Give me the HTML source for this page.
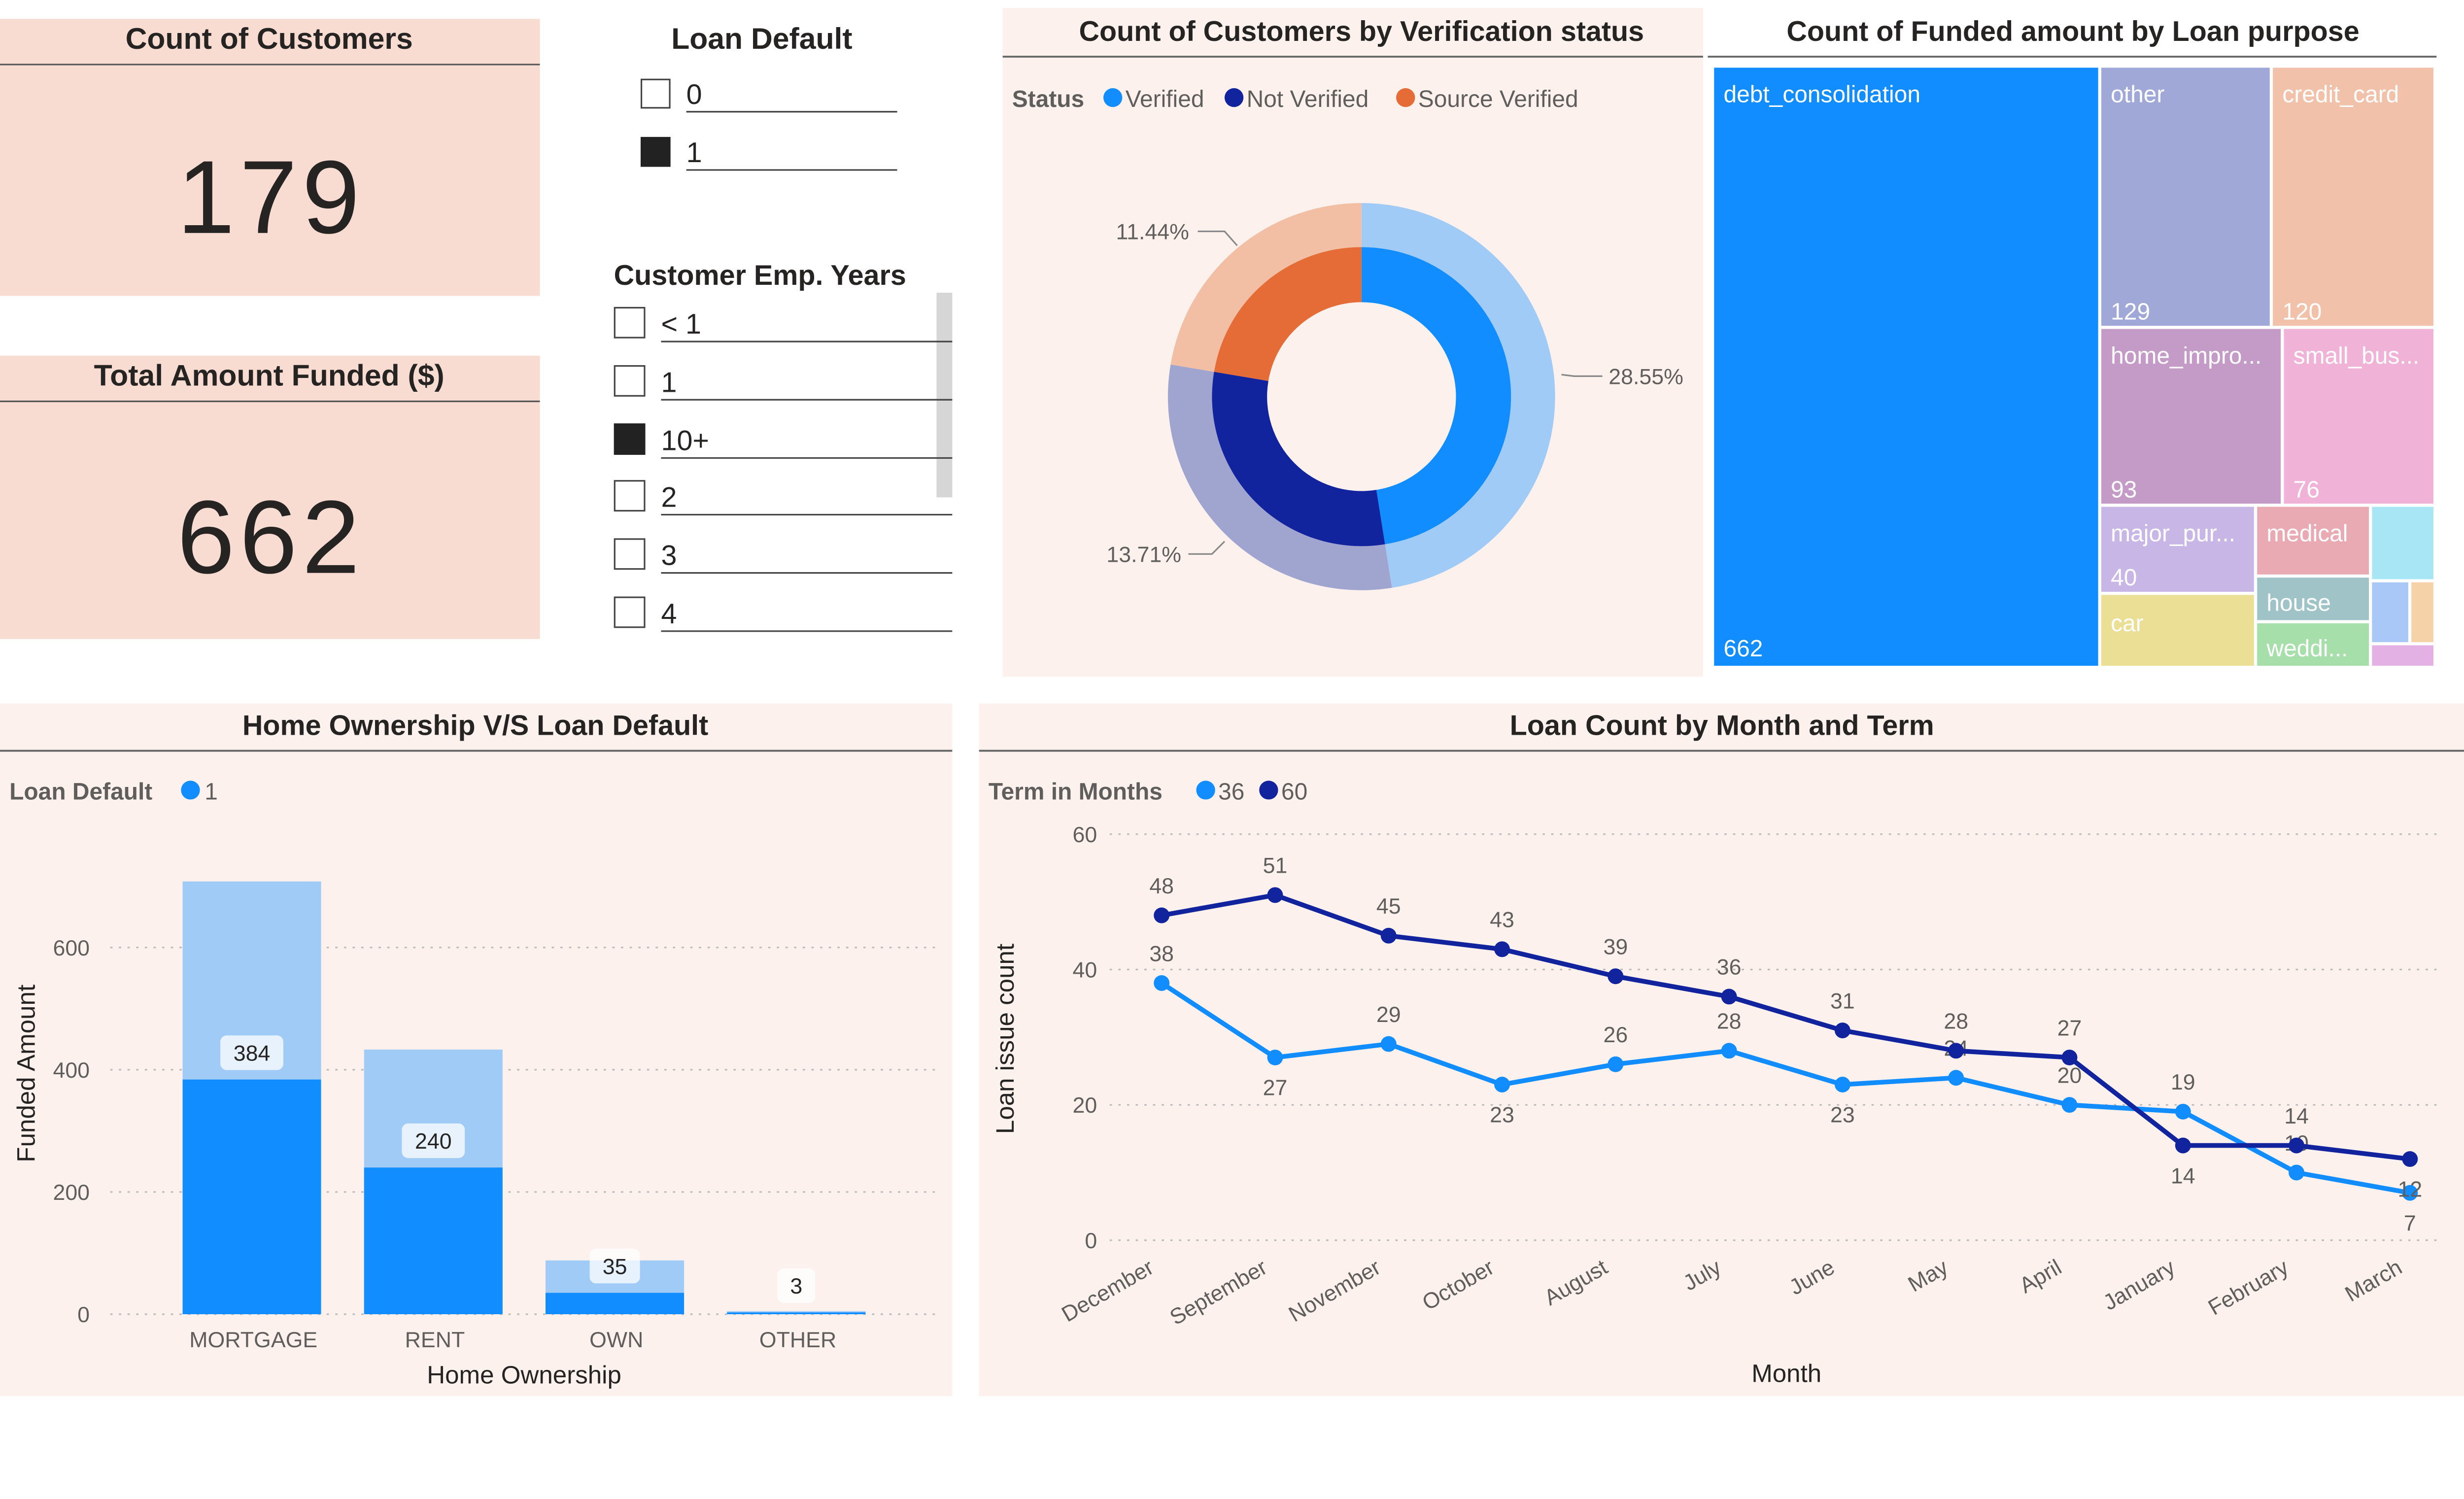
<!DOCTYPE html>
<html><head><meta charset="utf-8">
<style>
html,body{margin:0;padding:0;background:#fff;width:5334px;height:3042px;overflow:hidden;}
#wrap{position:absolute;left:0;top:0;width:5334px;height:3042px;overflow:hidden;}
svg{display:block;position:absolute;left:0;top:0;width:5334px;height:3042px;font-family:"Liberation Sans",sans-serif;}
.t{font-family:"Liberation Sans Narrow","Liberation Sans",sans-serif;}
</style></head>
<body>
<div id="wrap">
<svg id="root" width="5334" height="3042" viewBox="0 0 1670 952" preserveAspectRatio="xMinYMin meet" xmlns="http://www.w3.org/2000/svg">
<rect width="1670" height="952" fill="#ffffff"/>

<!-- KPI cards -->
<g>
<rect x="0" y="12" width="343" height="176" fill="#f8dcd2"/>
<text class="t" x="171" y="31" text-anchor="middle" font-size="19" font-weight="bold" fill="#252423">Count of Customers</text>
<line x1="0" y1="41" x2="343" y2="41" stroke="#555" stroke-width="1"/>
<text x="172" y="148" text-anchor="middle" font-size="66" fill="#252423" letter-spacing="3">179</text>
</g>
<g>
<rect x="0" y="226" width="343" height="180" fill="#f8dcd2"/>
<text class="t" x="171" y="245" text-anchor="middle" font-size="19" font-weight="bold" fill="#252423">Total Amount Funded ($)</text>
<line x1="0" y1="255" x2="343" y2="255" stroke="#555" stroke-width="1"/>
<text x="172" y="364" text-anchor="middle" font-size="66" fill="#252423" letter-spacing="3">662</text>
</g>

<!-- Slicers -->
<g>
<text class="t" x="484" y="31" text-anchor="middle" font-size="19" font-weight="bold" fill="#252423">Loan Default</text>
<g>
<rect x="407.5" y="50.5" width="18" height="18" fill="#fff" stroke="#444"/>
<text x="436" y="66" font-size="18" fill="#252423">0</text>
<line x1="436" y1="71" x2="570" y2="71" stroke="#444"/></g>
<g>
<rect x="407.5" y="87.5" width="18" height="18" fill="#222" stroke="#222"/>
<text x="436" y="103" font-size="18" fill="#252423">1</text>
<line x1="436" y1="108" x2="570" y2="108" stroke="#444"/></g>
</g>
<g>
<text class="t" x="390" y="181" font-size="18" font-weight="bold" fill="#252423">Customer Emp. Years</text>
<rect x="595" y="186" width="10" height="130" fill="#d6d6d6"/>
<g><rect x="390.5" y="195.5" width="19" height="19" fill="#fff" stroke="#444"/><text x="420" y="212" font-size="18" fill="#252423">&lt; 1</text><line x1="420" y1="217" x2="605" y2="217" stroke="#444"/></g>
<g><rect x="390.5" y="232.5" width="19" height="19" fill="#fff" stroke="#444"/><text x="420" y="249" font-size="18" fill="#252423">1</text><line x1="420" y1="254" x2="605" y2="254" stroke="#444"/></g>
<g><rect x="390.5" y="269.5" width="19" height="19" fill="#222" stroke="#222"/><text x="420" y="286" font-size="18" fill="#252423">10+</text><line x1="420" y1="291" x2="605" y2="291" stroke="#444"/></g>
<g><rect x="390.5" y="305.5" width="19" height="19" fill="#fff" stroke="#444"/><text x="420" y="322" font-size="18" fill="#252423">2</text><line x1="420" y1="327" x2="605" y2="327" stroke="#444"/></g>
<g><rect x="390.5" y="342.5" width="19" height="19" fill="#fff" stroke="#444"/><text x="420" y="359" font-size="18" fill="#252423">3</text><line x1="420" y1="364" x2="605" y2="364" stroke="#444"/></g>
<g><rect x="390.5" y="379.5" width="19" height="19" fill="#fff" stroke="#444"/><text x="420" y="396" font-size="18" fill="#252423">4</text><line x1="420" y1="401" x2="605" y2="401" stroke="#444"/></g>
</g>

<!-- Donut panel -->
<g>
<rect x="637" y="5" width="445" height="425" fill="#fcf1ed"/>
<line x1="637" y1="36" x2="1082" y2="36" stroke="#666" stroke-width="1.2"/>
<text class="t" x="865" y="26" text-anchor="middle" font-size="18" font-weight="bold" fill="#252423">Count of Customers by Verification status</text>
<g font-size="15" class="t">
<text x="643" y="68" font-weight="bold" fill="#605e5c">Status</text>
<circle cx="707" cy="62" r="6" fill="#118dff"/><text x="715" y="68" fill="#605e5c">Verified</text>
<circle cx="784" cy="62" r="6" fill="#12239e"/><text x="792" y="68" fill="#605e5c">Not Verified</text>
<circle cx="893" cy="62" r="6" fill="#e66c37"/><text x="901" y="68" fill="#605e5c">Source Verified</text>
</g>
<g id="donut"></g>
<g font-size="14" fill="#605e5c">
<text x="709" y="152">11.44%</text>
<polyline points="761,147 778,147 786,156" fill="none" stroke="#888"/>
<text x="1022" y="244">28.55%</text>
<polyline points="1018,239 1000,239 992,238" fill="none" stroke="#888"/>
<text x="703" y="357">13.71%</text>
<polyline points="755,352 770,352 778,344" fill="none" stroke="#888"/>
</g>
</g>

<!-- Treemap -->
<g>
<line x1="1085" y1="36" x2="1548" y2="36" stroke="#666" stroke-width="1.2"/>
<text class="t" x="1317" y="26" text-anchor="middle" font-size="18" font-weight="bold" fill="#252423">Count of Funded amount by Loan purpose</text>
<g font-size="15" fill="#ffffff">
<g><rect x="1089" y="43" width="244" height="380" fill="#118dff"/><text x="1095" y="65">debt_consolidation</text><text x="1095" y="417">662</text></g>
<g><rect x="1335" y="43" width="107" height="164" fill="#a0a8d8"/><text x="1341" y="65">other</text><text x="1341" y="203">129</text></g>
<g><rect x="1444" y="43" width="102" height="164" fill="#f2c1a9"/><text x="1450" y="65">credit_card</text><text x="1450" y="203">120</text></g>
<g><rect x="1335" y="209" width="114" height="111" fill="#c49ac6"/><text x="1341" y="231">home_impro...</text><text x="1341" y="316">93</text></g>
<g><rect x="1451" y="209" width="95" height="111" fill="#f0b2d6"/><text x="1457" y="231">small_bus...</text><text x="1457" y="316">76</text></g>
<g><rect x="1335" y="322" width="97" height="54" fill="#c8b6e6"/><text x="1341" y="344">major_pur...</text><text x="1341" y="372">40</text></g>
<g><rect x="1335" y="378" width="97" height="45" fill="#ebdf95"/><text x="1341" y="401">car</text></g>
<g><rect x="1434" y="322" width="71" height="43" fill="#e9aab3"/><text x="1440" y="344">medical</text></g>
<g><rect x="1434" y="367" width="71" height="27" fill="#9fc3c6"/><text x="1440" y="388">house</text></g>
<g><rect x="1434" y="396" width="71" height="27" fill="#a6dfa9"/><text x="1440" y="417">weddi...</text></g>
<rect x="1507" y="322" width="39" height="46" fill="#a9e6f5"/>
<rect x="1507" y="370" width="23" height="38" fill="#a9c7f7"/>
<rect x="1532" y="370" width="14" height="38" fill="#f5d2a8"/>
<rect x="1507" y="410" width="39" height="13" fill="#e4b1e4"/>
</g>
</g>

<!-- Bar panel -->
<g>
<rect x="0" y="447" width="605" height="440" fill="#fcf1ed"/>
<line x1="0" y1="477" x2="605" y2="477" stroke="#666" stroke-width="1.2"/>
<text class="t" x="302" y="467" text-anchor="middle" font-size="18" font-weight="bold" fill="#252423">Home Ownership V/S Loan Default</text>
<text class="t" x="6" y="508" font-size="15" font-weight="bold" fill="#605e5c">Loan Default</text>
<circle cx="121" cy="502" r="6" fill="#118dff"/><text x="130" y="508" font-size="15" fill="#605e5c">1</text>
<text transform="translate(22,682) rotate(-90)" text-anchor="middle" font-size="16" fill="#252423">Funded Amount</text>
<text x="333" y="879" text-anchor="middle" font-size="16" fill="#252423">Home Ownership</text>
<g id="bars"></g>
</g>

<!-- Line panel -->
<g>
<rect x="622" y="447" width="946" height="440" fill="#fcf1ed"/>
<line x1="622" y1="477" x2="1568" y2="477" stroke="#666" stroke-width="1.2"/>
<text class="t" x="1094" y="467" text-anchor="middle" font-size="18" font-weight="bold" fill="#252423">Loan Count by Month and Term</text>
<text class="t" x="628" y="508" font-size="15" font-weight="bold" fill="#605e5c">Term in Months</text>
<circle cx="766" cy="502" r="6" fill="#118dff"/><text x="774" y="508" font-size="15" fill="#605e5c">36</text>
<circle cx="806" cy="502" r="6" fill="#12239e"/><text x="814" y="508" font-size="15" fill="#605e5c">60</text>
<text transform="translate(644,660) rotate(-90)" text-anchor="middle" font-size="16" fill="#252423">Loan issue count</text>
<text x="1135" y="878" text-anchor="middle" font-size="16" fill="#252423">Month</text>
<g id="lines"></g>
</g>
</svg>
</div>
<script>
const NS="http://www.w3.org/2000/svg";
function mk(tag,attrs,parent,txt){const e=document.createElementNS(NS,tag);for(const k in attrs)e.setAttribute(k,attrs[k]);if(txt!==undefined)e.textContent=txt;parent.appendChild(e);return e;}

// ---- Donut data ----
const donutCategories=["Verified","Not Verified","Source Verified"];
const donutValues=[85,54,40];
const donutInner=["#118dff","#12239e","#e66c37"];
const donutOuter=["#a0cbf6","#a0a5d0","#f2bfa5"];
(function(){
 const g=document.getElementById("donut");const cx=865,cy=252;
 const tot=donutValues.reduce((a,b)=>a+b,0);let a0=0;
 function arc(r0,r1,s,e){const p=(r,a)=>[cx+r*Math.sin(a),cy-r*Math.cos(a)];const L=(e-s)>Math.PI?1:0;
  const [x1,y1]=p(r1,s),[x2,y2]=p(r1,e),[x3,y3]=p(r0,e),[x4,y4]=p(r0,s);
  return `M${x1},${y1}A${r1},${r1} 0 ${L} 1 ${x2},${y2}L${x3},${y3}A${r0},${r0} 0 ${L} 0 ${x4},${y4}Z`;}
 donutValues.forEach((v,i)=>{const a1=a0+v/tot*2*Math.PI;
  const o=mk("path",{d:arc(95,123,a0,a1),fill:donutOuter[i]},g);
  
  
  const n=mk("path",{d:arc(60,95,a0,a1),fill:donutInner[i]},g);
  
  
  a0=a1;});
})();

// ---- Bar data ----
const barCategories=["MORTGAGE","RENT","OWN","OTHER"];
const barDefault=[384,240,35,3];
const barTotal=[708,433,88,5];
const barTicks=[0,200,400,600];
(function(){
 const g=document.getElementById("bars");
 const y=v=>835-v*(233/600);const x=i=>160+i*115.3;
 barTicks.forEach(t=>{
  const l=mk("line",{x1:70,x2:595,y1:y(t),y2:y(t),stroke:"#bbb","stroke-dasharray":"1.5,4"},g);
  
  
  const tx=mk("text",{x:57,y:y(t)+5,"text-anchor":"end","font-size":14,fill:"#605e5c"},g,t);
  
  });
 barCategories.forEach((c,i)=>{
  const b1=mk("rect",{x:x(i)-44,y:y(barTotal[i]),width:88,height:835-y(barTotal[i]),fill:"#a0cbf6"},g);
  
  
  const b2=mk("rect",{x:x(i)-44,y:y(barDefault[i]),width:88,height:835-y(barDefault[i]),fill:"#118dff"},g);
  
  
  const s=String(barDefault[i]);const w=s.length*8+16;const ly=y(barDefault[i])-18;
  const lb=mk("rect",{x:x(i)-w/2,y:ly-10,width:w,height:22,rx:4,fill:"#ffffff","fill-opacity":0.75},g);
  
  
  const lt=mk("text",{x:x(i),y:ly+6,"text-anchor":"middle","font-size":14,fill:"#252423"},g,s);
  
  
  const ct=mk("text",{x:x(i)+1,y:856,"text-anchor":"middle","font-size":14,fill:"#605e5c"},g,c);
  
  });
})();

// ---- Line data ----
const months=["December","September","November","October","August","July","June","May","April","January","February","March"];
const term36=[38,27,29,23,26,28,23,24,20,19,10,7];
const term60=[48,51,45,43,39,36,31,28,27,14,14,12];
const lineTicks=[0,20,40,60];
(function(){
 const g=document.getElementById("lines");
 const y=v=>788-v*(258/60);const x=i=>738+i*72.1;
 const last=months.length-1;
 lineTicks.forEach(t=>{
  const l=mk("line",{x1:705,x2:1548,y1:y(t),y2:y(t),stroke:"#bbb","stroke-dasharray":"1.5,4"},g);
  
  
  const tx=mk("text",{x:697,y:y(t)+5,"text-anchor":"end","font-size":14,fill:"#605e5c"},g,t);
  
  });
 months.forEach((m,i)=>{
  const tx=mk("text",{x:x(i)-4,y:808,"text-anchor":"end","font-size":14,fill:"#605e5c",transform:`rotate(-30 ${x(i)-4} 808)`},g,m);
  
  });
 function series(vals,color,name,labelFn){
  const p=mk("polyline",{points:vals.map((v,i)=>x(i)+","+y(v)).join(" "),fill:"none",stroke:color,"stroke-width":3},g);
  
  
  vals.forEach((v,i)=>{
   const c=mk("circle",{cx:x(i),cy:y(v),r:5,fill:color},g);
   
   
   const below=labelFn(vals,i);
   const t=mk("text",{x:x(i),y:below?y(v)+24:y(v)-14,"text-anchor":"middle","font-size":14,fill:"#605e5c"},g,v);
   
   });
 }
 series(term36,"#118dff","term-36",(vals,i)=>(i>0&&vals[i]<vals[i-1]&&i<8)||i===last);
 series(term60,"#12239e","term-60",(vals,i)=>(i>0&&term36[i]>vals[i])||i===last);
})();
</script>
</body></html>
